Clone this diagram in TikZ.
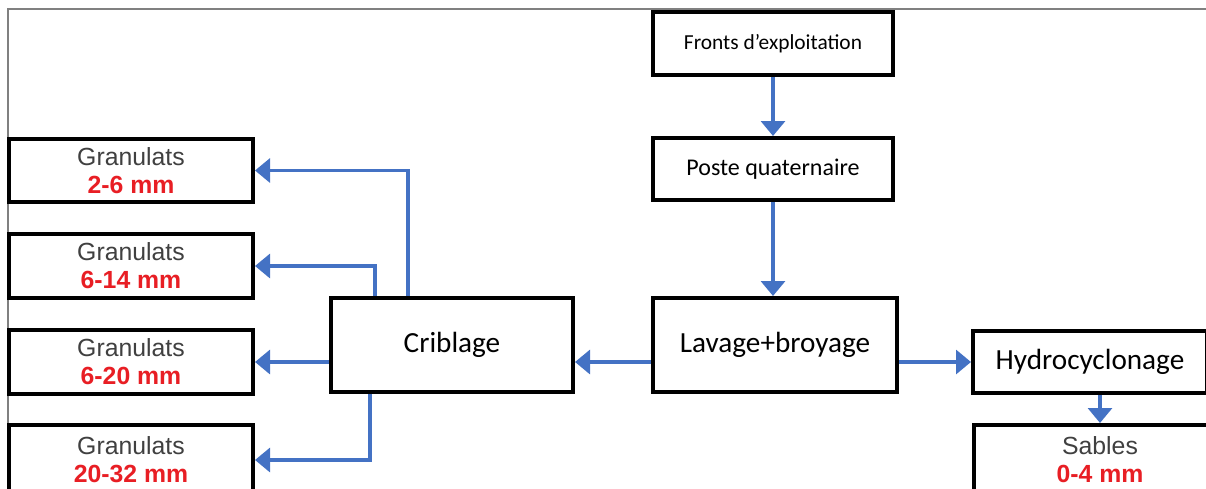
\documentclass[tikz,border=0pt]{standalone}
\usepackage{fontspec}
\setmainfont{Carlito}
\newfontfamily\arialfont{Liberation Sans}
\usetikzlibrary{arrows.meta}

\definecolor{flowblue}{RGB}{68,114,196}
\definecolor{sizered}{RGB}{232,30,36}
\definecolor{labelgray}{RGB}{64,64,64}

\tikzstyle{block} = [align=center, draw, line width=2pt, fill=white, rectangle, inner sep=0pt]
\tikzstyle{stage} = [block, font=\fontsize{14.6}{16}\selectfont]
\tikzstyle{product} = [block, minimum width=122pt, font=\arialfont\fontsize{12.4}{14}\selectfont]
\tikzstyle{flow} = [draw=flowblue, line width=1.6pt, -{Triangle[length=7.5pt,width=12pt]}]

\newcommand{\grain}[2]{{\color{labelgray}#1}\\{\color{sizered}\bfseries #2}}

\begin{document}
\begin{tikzpicture}[x=0.5pt,y=-0.5pt]
            %
            % frame of the picture
            \clip (0,0) rectangle (1206,488);
            \draw [gray, line width=1pt] (1206,9) -- (8,9) -- (8,488);
            %
            % We start by placing the blocks
            \node [block, minimum width=120pt, minimum height=31.5pt, font=\fontsize{10.7}{12}\selectfont] (fronts) at (773,43.5) {Fronts d’exploitation};
            \node [block, minimum width=120pt, minimum height=31pt, font=\fontsize{12}{13}\selectfont] (poste) at (773,169) {Poste quaternaire};
            \node [stage, minimum width=122pt, minimum height=47pt] (lavage) at (775,345) {Lavage+broyage};
            \node [stage, minimum width=121pt, minimum height=47pt] (criblage) at (452,345) {Criblage};
            \node [stage, minimum width=117pt, minimum height=31pt] (hydro) at (1090,362) {Hydrocyclonage};
            \node [product, minimum width=126pt, minimum height=35pt] (sables) at (1100,460) {\grain{Sables}{0-4 mm}};
            %
            % the four products of the screening
            \node [product, minimum height=31.5pt] (g1) at (131,170.5) {\grain{Granulats}{2-6 mm}};
            \node [product, minimum height=32pt] (g2) at (131,266) {\grain{Granulats}{6-14 mm}};
            \node [product, minimum height=32pt] (g3) at (131,362) {\grain{Granulats}{6-20 mm}};
            \node [product, minimum height=35pt] (g4) at (131,460) {\grain{Granulats}{20-32 mm}};
            %
            % Once the nodes are placed, connecting them is easy.
            \draw [flow] (fronts) -- (poste);
            \draw [flow] (poste) -- (poste |- lavage.north);
            \draw [flow] ([yshift=-8.5pt]lavage.west) -- ([yshift=-8.5pt]criblage.east);
            \draw [flow] (lavage.east |- hydro) -- (hydro.west);
            \draw [flow] (hydro.south -| sables) -- (sables.north);
            \draw [flow] ([xshift=-22pt]criblage.north) |- (g1.east);
            \draw [flow] ([xshift=-38.5pt]criblage.north) |- (g2.east);
            \draw [flow] (criblage.west |- g3) -- (g3.east);
            \draw [flow] ([xshift=-41pt]criblage.south) |- (g4.east);
            %
        \end{tikzpicture}
\end{document}
